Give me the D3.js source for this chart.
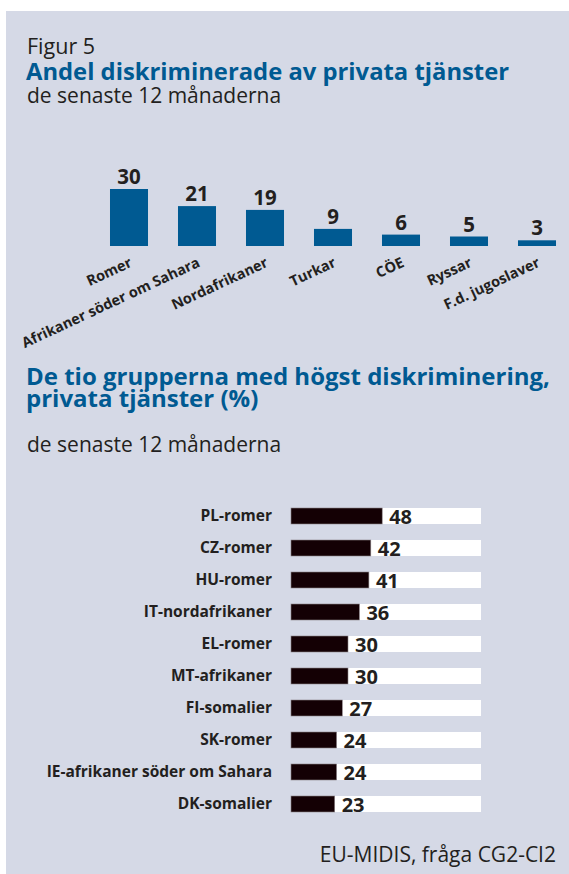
<!DOCTYPE html>
<html>
<head>
<meta charset="utf-8">
<script src="https://cdn.jsdelivr.net/npm/d3@7"></script>
<style>
  html, body { margin: 0; padding: 0; background: #fff; }
  svg { display: block; }
  svg text { font-family: 'Open Sans', 'Noto Sans', sans-serif; }
</style>
</head>
<body>
<svg id="chart"></svg>
<script>
const groups = ['Romer', 'Afrikaner söder om Sahara', 'Nordafrikaner', 'Turkar', 'CÖE', 'Ryssar', 'F.d. jugoslaver'];
const groupValues = [30, 21, 19, 9, 6, 5, 3];

const topTen = ['PL-romer', 'CZ-romer', 'HU-romer', 'IT-nordafrikaner', 'EL-romer', 'MT-afrikaner',
  'FI-somalier', 'SK-romer', 'IE-afrikaner söder om Sahara', 'DK-somalier'];
const topTenValues = [48, 42, 41, 36, 30, 30, 27, 24, 24, 23];

const width = 569;
const height = 874;
const blue = '#005a92';
const ink = '#231f20';

const svg = d3.select('#chart').attr('width', width).attr('height', height);

svg.append('rect')
  .attr('x', 6).attr('y', 11)
  .attr('width', width - 6).attr('height', height - 11)
  .attr('fill', '#d5d9e6');

// headings
svg.append('text').attr('x', 27).attr('y', 54)
  .attr('font-size', 21.5).attr('fill', ink).text('Figur 5');
svg.append('text').attr('x', 26).attr('y', 80)
  .attr('font-size', 23.8).attr('font-weight', 700).attr('fill', blue)
  .text('Andel diskriminerade av privata tjänster');
svg.append('text').attr('x', 27).attr('y', 103)
  .attr('font-size', 21).attr('fill', ink).text('de senaste 12 månaderna');

// chart 1: vertical bars
const x1 = d3.scaleBand().domain(groups).range([95, 571]).paddingInner(0.441).paddingOuter(0.2205);
const y1 = d3.scaleLinear().domain([0, 30]).range([246, 189]);

const g1 = svg.append('g');
g1.selectAll('rect')
  .data(groupValues)
  .join('rect')
  .attr('x', (d, i) => x1(groups[i]))
  .attr('y', (d) => y1(d))
  .attr('width', x1.bandwidth())
  .attr('height', (d) => y1(0) - y1(d))
  .attr('fill', blue);

g1.selectAll('text.val')
  .data(groupValues)
  .join('text')
  .attr('class', 'val')
  .attr('x', (d, i) => x1(groups[i]) + x1.bandwidth() / 2)
  .attr('y', (d) => y1(d) - 5)
  .attr('text-anchor', 'middle')
  .attr('font-size', 20.5).attr('font-weight', 700).attr('fill', ink)
  .text((d) => d);

const xAxis1 = svg.append('g')
  .attr('transform', `translate(0,${y1(0)})`)
  .call(d3.axisBottom(x1).tickSize(0).tickPadding(0))
  .attr('font-family', null).attr('font-size', null);
xAxis1.select('.domain').remove();
xAxis1.selectAll('text')
  .attr('font-size', 14.5).attr('font-weight', 700).attr('fill', ink)
  .attr('text-anchor', 'end')
  .attr('dy', null).attr('y', 0)
  .attr('transform', 'translate(4,20) rotate(-25)');

// second heading
svg.append('text').attr('x', 26).attr('y', 385)
  .attr('font-size', 24).attr('font-weight', 700).attr('fill', blue)
  .text('De tio grupperna med högst diskriminering,');
svg.append('text').attr('x', 26).attr('y', 407)
  .attr('font-size', 24).attr('font-weight', 700).attr('fill', blue)
  .text('privata tjänster (%)');
svg.append('text').attr('x', 27).attr('y', 452)
  .attr('font-size', 21).attr('fill', ink).text('de senaste 12 månaderna');

// chart 2: horizontal bars
const y2 = d3.scaleBand().domain(topTen).range([500, 820]).paddingInner(0.5).paddingOuter(0.25);
const x2 = d3.scaleLinear().domain([0, 100]).range([291, 481]);

const g2 = svg.append('g');
g2.selectAll('rect.track')
  .data(topTen)
  .join('rect')
  .attr('class', 'track')
  .attr('x', x2(0)).attr('y', (d) => y2(d))
  .attr('width', x2(100) - x2(0)).attr('height', y2.bandwidth())
  .attr('fill', '#fff');

g2.selectAll('rect.bar')
  .data(topTenValues)
  .join('rect')
  .attr('class', 'bar')
  .attr('x', x2(0)).attr('y', (d, i) => y2(topTen[i]))
  .attr('width', (d) => x2(d) - x2(0)).attr('height', y2.bandwidth())
  .attr('fill', '#140004').attr('stroke', '#8a8288').attr('stroke-width', 0.6);

g2.selectAll('text.val')
  .data(topTenValues)
  .join('text')
  .attr('class', 'val')
  .attr('x', (d) => x2(d) + 7)
  .attr('y', (d, i) => y2(topTen[i]) + y2.bandwidth())
  .attr('font-size', 20).attr('font-weight', 700).attr('fill', ink)
  .text((d) => d);

const yAxis2 = svg.append('g')
  .attr('transform', `translate(${x2(0)},0)`)
  .call(d3.axisLeft(y2).tickSize(0).tickPadding(19))
  .attr('font-family', null).attr('font-size', null);
yAxis2.select('.domain').remove();
yAxis2.selectAll('text')
  .attr('font-size', 15.5).attr('font-weight', 700).attr('fill', ink)
  .attr('dy', '0.35em');

// source
svg.append('text').attr('x', 556).attr('y', 862)
  .attr('text-anchor', 'end')
  .attr('font-size', 21).attr('fill', ink)
  .text('EU-MIDIS, fråga CG2-CI2');
</script>
</body>
</html>
